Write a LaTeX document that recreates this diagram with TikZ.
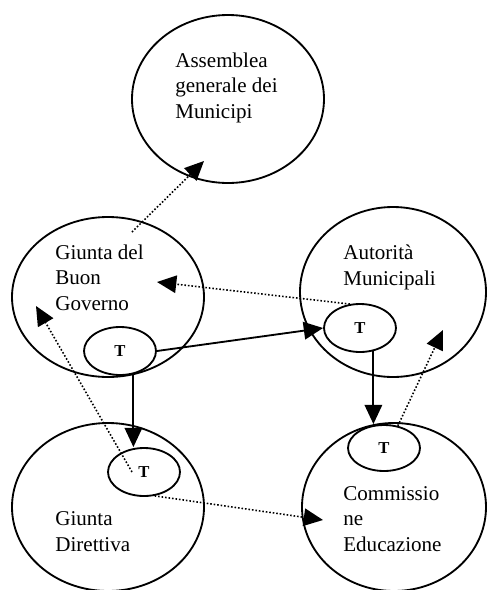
\documentclass[tikz,border=0pt]{standalone}
\usepackage{fontspec}
\setmainfont{Liberation Serif}
\usetikzlibrary{shapes.geometric,arrows.meta}
\begin{document}
\begin{tikzpicture}[x=0.57pt,y=-0.57pt,
 oval/.style={draw,ellipse,line width=1.05pt,inner sep=0pt},
 tnode/.style={oval,minimum width=72*0.57pt,minimum height=48*0.57pt,font=\fontsize{9.5}{10}\selectfont\bfseries},
 lbl/.style={anchor=base west,align=left,inner sep=0pt,font=\fontsize{12}{14.3}\selectfont},
 solidarrow/.style={line width=1.05pt,-{Triangle[length=11pt,width=10pt]}},
 dotarrow/.style={line width=0.9pt,dash pattern=on 0.9pt off 1.1pt,-{Triangle[length=11pt,width=10pt]}}]
\useasboundingbox (0,0) rectangle (487,590);
% big ellipses
\node[oval,minimum width=192*0.57pt,minimum height=168*0.57pt] (ass) at (228,99) {};
\node[oval,minimum width=192*0.57pt,minimum height=160*0.57pt] (gbg) at (108,297) {};
\node[oval,minimum width=186*0.57pt,minimum height=170*0.57pt] (aut) at (393,292) {};
\node[oval,minimum width=192*0.57pt,minimum height=168*0.57pt] (dir) at (108,507) {};
\node[oval,minimum width=184*0.57pt,minimum height=168*0.57pt] (com) at (394,507) {};
% labels (anchored at the baseline of their last line)
\node[lbl] (assL) at (175,118) {Assemblea\\generale dei\\Municipi};
\node[lbl] (gbgL) at (55,310) {Giunta del\\Buon\\Governo};
\node[lbl] (autL) at (343,285) {Autorità\\Municipali};
\node[lbl] (dirL) at (55,551) {Giunta\\Direttiva};
\node[lbl] (comL) at (343,551) {Commissio\\ne\\Educazione};
% T ellipses
\node[tnode] (t1) at (120,351) {T};
\node[tnode] (t2) at (360,328) {T};
\node[tnode] (t3) at (144,472) {T};
\node[tnode,minimum height=46*0.57pt] (t4) at (384,448) {T};
% coordinates for free ends
\coordinate (gbgTop) at (132,232);
\coordinate (assTip) at (204,161);
\coordinate (gbgTip) at (157,282);
\coordinate (t3in) at (132,472);
\coordinate (gbgTipL) at (36,306);
\coordinate (comTip) at (323,520);
\coordinate (autTip) at (443,330);
% solid arrows
\draw[solidarrow] (t1.-60) -- (t1.-60 |- t3.north);
\draw[solidarrow] (t1.east) -- (t2.west);
\draw[solidarrow] (t2.-60) -- (t2.-60 |- t4.north);
% dotted arrows
\draw[dotarrow] (gbgTop) -- (assTip);
\draw[dotarrow] (t2.113) -- (gbgTip);
\draw[dotarrow] (t3in) -- (gbgTipL);
\draw[dotarrow] (t3.-66) -- (comTip);
\draw[dotarrow] (t4.58) -- (autTip);
\end{tikzpicture}
\end{document}
